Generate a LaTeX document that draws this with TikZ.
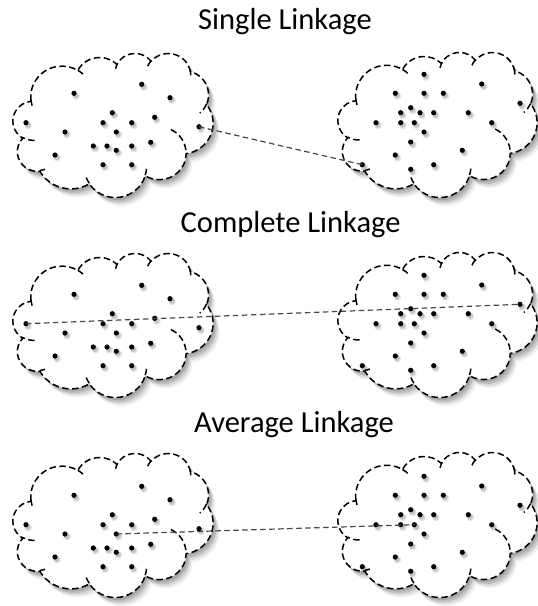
\documentclass[tikz,border=0pt]{standalone}
\usepackage{fontspec}
\setmainfont{Carlito}
\tikzset{
  cloudline/.style={draw=black, line width=1.5pt, dash pattern=on 6.5pt off 3.5pt},
  dotnode/.style={circle, fill=black, inner sep=0pt, minimum size=5.2pt},
  linkline/.style={draw=black!72, line width=1.2pt, dash pattern=on 5.5pt off 3.5pt},
  titletext/.style={font=\fontsize{30.5}{36}\selectfont, anchor=base west, inner sep=0pt, text=black},
}
% arc with OOXML-style (visual) angles
\newcommand\vArc[4]{arc[x radius=#1, y radius=#2,
  start angle={atan2((#1)*sin(#3),(#2)*cos(#3))},
  delta angle={mod(atan2((#1)*sin((#3)+(#4)),(#2)*cos((#3)+(#4)))-atan2((#1)*sin(#3),(#2)*cos(#3))+720,360)}]}
\def\cloudpath{(39,143.70)
  \vArc{67.53}{91.90}{-190.4875}{123.7805}
  \vArc{53.33}{72.67}{-144.1024}{89.9452}
  \vArc{43.65}{59.45}{-145.8079}{99.7230}
  \vArc{48.57}{65.95}{-130.9861}{117.2417}
  \vArc{53.33}{72.73}{-78.7089}{109.0269}
  \vArc{67.75}{92.20}{-46.2673}{130.2690}
  \vArc{57.85}{78.67}{0.6250}{114.0333}
  \vArc{67.52}{92.15}{22.4516}{115.1726}
  \vArc{77.20}{105.43}{66.2426}{75.7110}
  \vArc{43.60}{59.18}{-274.9421}{146.7356}
  \vArc{43.45}{59.45}{-246.8285}{152.5189} -- cycle}
\def\hookpath{(46.93,261.77) \vArc{43.45}{59.45}{86.7420}{26.4295}
  (69.28,348.99) \vArc{43.60}{59.18}{73.6105}{11.4475}
  (164.78,390.90) \vArc{67.52}{92.15}{137.6242}{14.0811}
  (288.27,347.51) \vArc{67.52}{92.15}{6.4533}{15.9984}
  (341.29,229.54) \vArc{57.85}{78.67}{-70.2924}{70.9174}
  (417.98,153.54) \vArc{53.33}{72.73}{30.3180}{27.7515}
  (383.24,54.26) \vArc{48.57}{65.95}{-13.7443}{14.8519}
  (290.78,39.52) \vArc{48.57}{65.95}{-149.1815}{18.1959}
  (221.41,47.20) \vArc{43.65}{59.45}{-163.4943}{17.6910}
  (140.00,51.92) \vArc{67.53}{91.90}{-66.7070}{12.3194}
  (41.27,157.89) \vArc{67.53}{91.90}{157.6544}{11.8582}}
\newcommand\drawcloud[4]{%
  \foreach \sx/\sy/\op in {2/2.5/0.12, 3.5/4.5/0.12, 5/6.5/0.09, 6.5/8.5/0.06}{
    \fill[black, opacity=\op, shift={(#1+\sx,#2+\sy)}, xscale=#3/432, yscale=#4/432] \cloudpath;
  }
  \path[cloudline, fill=white, shift={(#1,#2)}, xscale=#3/432, yscale=#4/432] \cloudpath;
  \draw[cloudline, shift={(#1,#2)}, xscale=#3/432, yscale=#4/432] \hookpath;
}
\newcommand\cldot[3]{%
  \fill[black, opacity=0.10] (#2+2.2,#3+2.8) circle (3.8);
  \fill[black, opacity=0.15] (#2+1.7,#3+2.2) circle (2.8);
  \node[dotnode] (#1) at (#2,#3) {};
}
\begin{document}
\begin{tikzpicture}[x=1pt, y=1pt, yscale=-1]
\useasboundingbox (0,0) rectangle (538,606);
\fill[white] (0,0) rectangle (538,606);

\node[titletext] (t1) at (198,29.3) {Single Linkage};
\node[titletext] (t2) at (180.5,232.3) {Complete Linkage};
\node[titletext] (t3) at (194,432.3) {Average Linkage};

\foreach \cy in {0,200,400}{
  \drawcloud{13}{53+\cy}{200}{144}
  \drawcloud{338}{52+\cy}{199}{145}
}

\foreach \r/\dy in {1/0, 2/201, 3/402}{
  \foreach \px/\py [count=\i] in {141.7/84.3, 74/93.3, 170/97.7, 112.3/112.7, 26/122.7,
      103/122.7, 131.7/122.7, 154.7/117.3, 199/126.7, 65/132, 116.3/132, 93.3/146,
      107/146, 131.7/146, 116.3/150.3, 150.7/142.3, 55/155, 103/164.7, 131.7/164.7}{
    \cldot{L\r-\i}{\px}{\py+\dy}
  }
  \foreach \px/\py [count=\i] in {424/74.3, 481.7/84, 395.3/93.3, 424/93.3, 443.3/93.3,
      520/103.3, 410.7/107.7, 400.7/112.7, 420/112.7, 433.7/112.7, 468.3/112.7,
      376/122.7, 400.7/122.7, 414.3/122.7, 491.7/122.7, 424/132, 410.7/142,
      462.3/150.3, 395.3/155, 362.3/164.7, 410.7/169.3, 433.7/164.7}{
    \cldot{R\r-\i}{\px}{\py+\dy}
  }
}

\draw[linkline] (L1-9.center) -- (R1-20.center);
\draw[linkline] (L2-5.center) -- (R2-6.center);
\draw[linkline] (L3-11.center) -- (R3-14.center);
\end{tikzpicture}
\end{document}
